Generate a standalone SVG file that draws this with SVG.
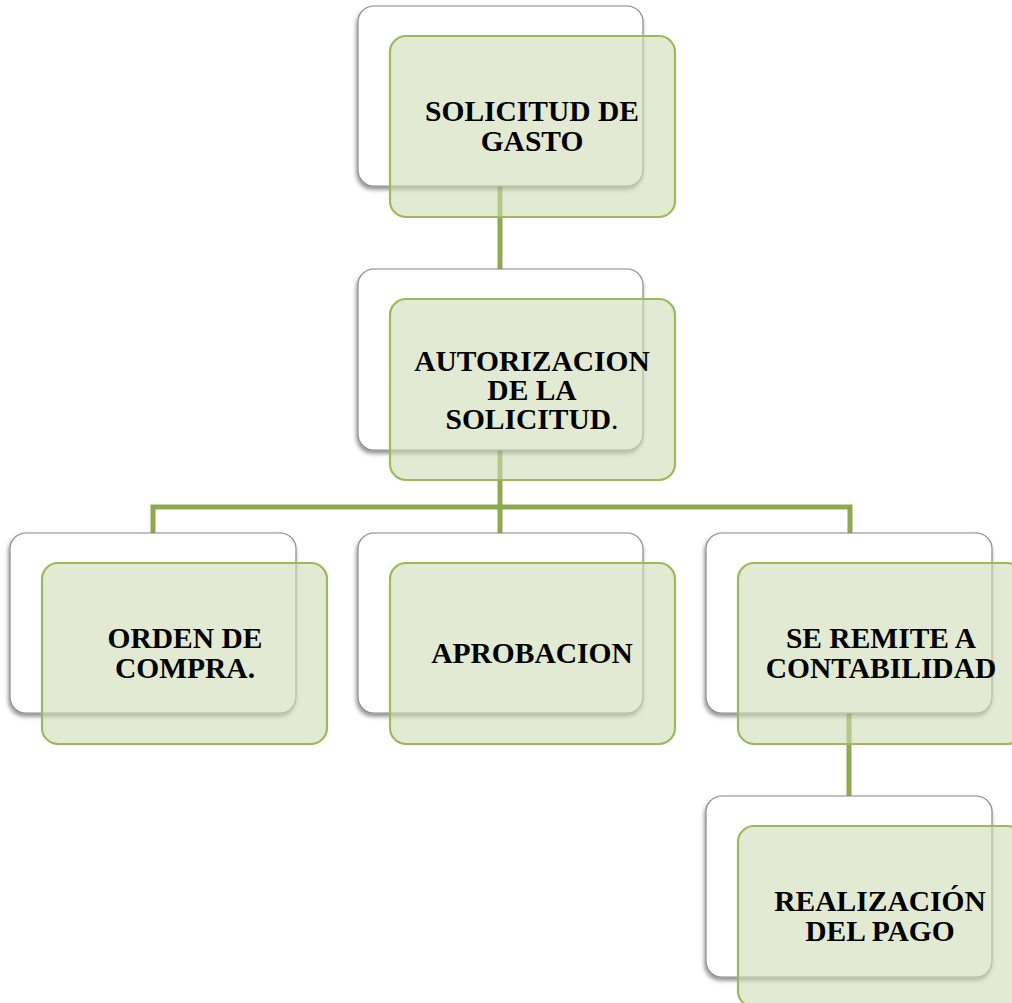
<svg xmlns="http://www.w3.org/2000/svg" width="1012" height="1003" viewBox="0 0 1012 1003">
<defs>
<filter id="sh" x="-10%" y="-10%" width="120%" height="125%">
<feDropShadow dx="-1" dy="3" stdDeviation="2" flood-color="#000" flood-opacity="0.45"/>
</filter>
<style>
.back{fill:#ffffff;stroke:#8a8a8a;stroke-width:1.2;filter:url(#sh)}
.front{fill:#cfdcb8;fill-opacity:0.6;stroke:#9bbb59;stroke-width:2.2}
.conn{stroke:#8cab4e;stroke-width:5;fill:none}
.t{font-family:"Liberation Serif","Times New Roman",serif;font-weight:bold;font-size:29.5px;fill:#000;text-anchor:middle}
</style>
</defs>
<rect width="1012" height="1003" fill="#ffffff"/>
<g id="connectors">
<line class="conn" x1="500" y1="186" x2="500" y2="269"/>
<line class="conn" x1="500" y1="450" x2="500" y2="533"/>
<polyline class="conn" points="153,533 153,507 850,507 850,533"/>
<line class="conn" x1="849" y1="713" x2="849" y2="796"/>
</g>
<g id="node-solicitud">
<rect class="back" x="358" y="6" width="285" height="180" rx="16"/>
<rect class="front" x="390" y="36" width="285" height="181" rx="16"/>
<text class="t" x="532" y="121">SOLICITUD DE</text>
<text class="t" x="532" y="151">GASTO</text>
</g>
<g id="node-autorizacion">
<rect class="back" x="358" y="269" width="285" height="181" rx="16"/>
<rect class="front" x="390" y="299" width="285" height="181" rx="16"/>
<text class="t" x="532" y="371">AUTORIZACION</text>
<text class="t" x="532" y="400">DE LA</text>
<text class="t" x="532" y="429">SOLICITUD<tspan font-weight="normal">.</tspan></text>
</g>
<g id="node-orden">
<rect class="back" x="10" y="533" width="286" height="180" rx="16"/>
<rect class="front" x="42" y="563" width="285" height="181" rx="16"/>
<text class="t" x="185" y="648">ORDEN DE</text>
<text class="t" x="185" y="678">COMPRA.</text>
</g>
<g id="node-aprobacion">
<rect class="back" x="358" y="533" width="285" height="180" rx="16"/>
<rect class="front" x="390" y="563" width="285" height="181" rx="16"/>
<text class="t" x="532" y="663">APROBACION</text>
</g>
<g id="node-contabilidad">
<rect class="back" x="706" y="533" width="286" height="180" rx="16"/>
<rect class="front" x="738" y="563" width="285" height="181" rx="16"/>
<text class="t" x="881" y="648">SE REMITE A</text>
<text class="t" x="881" y="678">CONTABILIDAD</text>
</g>
<g id="node-pago">
<rect class="back" x="706" y="796" width="286" height="181" rx="16"/>
<rect class="front" x="738" y="826" width="285" height="181" rx="16"/>
<text class="t" x="880" y="911">REALIZACIÓN</text>
<text class="t" x="880" y="941">DEL PAGO</text>
</g>
</svg>
